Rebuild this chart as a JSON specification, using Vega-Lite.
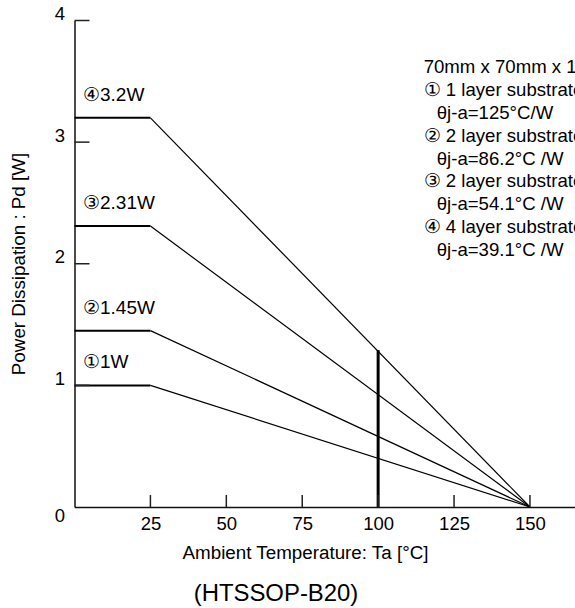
{
  "$schema": "https://vega.github.io/schema/vega-lite/v6.json",
  "width": 501,
  "height": 486.5,
  "autosize": {"type": "none"},
  "padding": {"left": 74.5, "top": 20.5, "right": 0, "bottom": 101},
  "config": {
    "font": "Liberation Sans",
    "view": {"stroke": null},
    "axis": {"grid": false, "ticks": false, "domainColor": "#111", "domainWidth": 1.5, "labelColor": "#000", "titleColor": "#000", "labelFontSize": 18.5, "titleFontSize": 18.8, "titleFontWeight": "normal", "labelFont": "Liberation Sans", "titleFont": "Liberation Sans"}
  },
  "title": {"text": "(HTSSOP-B20)", "orient": "bottom", "anchor": "middle", "frame": "group", "fontSize": 23.9, "fontWeight": "normal", "color": "#000", "font": "Liberation Sans", "dx": -49, "offset": 20},
  "datasets": {
    "segs": [
      {"s": "1", "part": "flat", "x": 0, "y": 1, "x2": 25, "y2": 1},
      {"s": "1", "part": "slope", "x": 25, "y": 1, "x2": 150, "y2": 0},
      {"s": "2", "part": "flat", "x": 0, "y": 1.45, "x2": 25, "y2": 1.45},
      {"s": "2", "part": "slope", "x": 25, "y": 1.45, "x2": 150, "y2": 0},
      {"s": "3", "part": "flat", "x": 0, "y": 2.31, "x2": 25, "y2": 2.31},
      {"s": "3", "part": "slope", "x": 25, "y": 2.31, "x2": 150, "y2": 0},
      {"s": "4", "part": "flat", "x": 0, "y": 3.2, "x2": 25, "y2": 3.2},
      {"s": "4", "part": "slope", "x": 25, "y": 3.2, "x2": 150, "y2": 0},
      {"s": "mark", "part": "marker", "x": 100, "y": 0, "x2": 100, "y2": 1.29}
    ],
    "ticks": [
      {"x": 25, "y": 0, "x2": 25, "y2": 0.099},
      {"x": 50, "y": 0, "x2": 50, "y2": 0.099},
      {"x": 75, "y": 0, "x2": 75, "y2": 0.099},
      {"x": 100, "y": 0, "x2": 100, "y2": 0.099},
      {"x": 125, "y": 0, "x2": 125, "y2": 0.099},
      {"x": 150, "y": 0, "x2": 150, "y2": 0.099},
      {"x": 0, "y": 1, "x2": 4.94, "y2": 1},
      {"x": 0, "y": 2, "x2": 4.94, "y2": 2},
      {"x": 0, "y": 3, "x2": 4.94, "y2": 3},
      {"x": 0, "y": 4, "x2": 4.94, "y2": 4}
    ],
    "labels": [
      {"label": "④3.2W", "x": 2.8, "y": 3.39},
      {"label": "③2.31W", "x": 2.8, "y": 2.5},
      {"label": "②1.45W", "x": 2.8, "y": 1.64},
      {"label": "①1W", "x": 2.8, "y": 1.19}
    ],
    "notes": [
      {"t": "70mm x 70mm x 1.6mm", "x": 115, "y": 3.618},
      {"t": "① 1 layer substrate", "x": 115, "y": 3.43},
      {"t": "θj-a=125°C/W", "x": 119.3, "y": 3.242},
      {"t": "② 2 layer substrate", "x": 115, "y": 3.053},
      {"t": "θj-a=86.2°C /W", "x": 119.3, "y": 2.865},
      {"t": "③ 2 layer substrate", "x": 115, "y": 2.677},
      {"t": "θj-a=54.1°C /W", "x": 119.3, "y": 2.489},
      {"t": "④ 4 layer substrate", "x": 115, "y": 2.3},
      {"t": "θj-a=39.1°C /W", "x": 119.3, "y": 2.112}
    ]
  },
  "layer": [
    {
      "data": {"name": "segs"},
      "mark": {"type": "rule", "color": "#000"},
      "encoding": {
        "x": {"field": "x", "type": "quantitative", "scale": {"domain": [0, 165], "nice": false, "zero": false},
          "axis": {"values": [25, 50, 75, 100, 125, 150], "labelPadding": 7, "title": "Ambient Temperature: Ta [°C]", "titleX": 230.5, "titleY": 45, "titleBaseline": "middle", "titleAnchor": "middle"}},
        "y": {"field": "y", "type": "quantitative", "scale": {"domain": [0, 4], "nice": false},
          "axis": {"values": [0, 1, 2, 3, 4], "format": "d", "labelPadding": 10, "labelOffset": {"condition": {"test": "datum.value === 0", "value": 8}, "value": -7}, "title": "Power Dissipation : Pd [W]", "titleX": -56, "titleY": 243, "titleBaseline": "middle", "titleAngle": -90, "titleAnchor": "middle"}},
        "x2": {"field": "x2"},
        "y2": {"field": "y2"},
        "strokeWidth": {"field": "part", "type": "nominal", "scale": {"type": "ordinal", "domain": ["flat", "slope", "marker"], "range": [2, 1.2, 3]}, "legend": null}
      }
    },
    {
      "data": {"name": "ticks"},
      "mark": {"type": "rule", "color": "#222", "strokeWidth": 1.5},
      "encoding": {
        "x": {"field": "x", "type": "quantitative"},
        "y": {"field": "y", "type": "quantitative"},
        "x2": {"field": "x2"},
        "y2": {"field": "y2"}
      }
    },
    {
      "data": {"name": "labels"},
      "mark": {"type": "text", "align": "left", "baseline": "middle", "fontSize": 19, "color": "#000", "font": "Liberation Sans"},
      "encoding": {
        "x": {"field": "x", "type": "quantitative"},
        "y": {"field": "y", "type": "quantitative"},
        "text": {"field": "label"}
      }
    },
    {
      "data": {"name": "notes"},
      "mark": {"type": "text", "align": "left", "baseline": "middle", "fontSize": 18.6, "color": "#000", "font": "Liberation Sans"},
      "encoding": {
        "x": {"field": "x", "type": "quantitative"},
        "y": {"field": "y", "type": "quantitative"},
        "text": {"field": "t"}
      }
    }
  ]
}
